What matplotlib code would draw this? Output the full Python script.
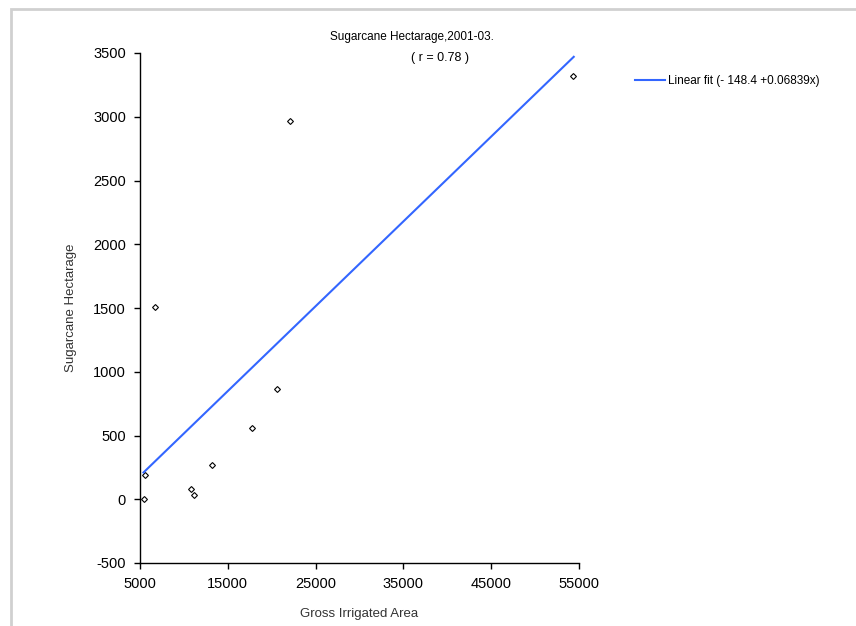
import matplotlib
matplotlib.use("Agg")
import matplotlib.pyplot as plt
from matplotlib.patches import Rectangle

plt.rcParams['font.family'] = ['Liberation Sans', 'DejaVu Sans']
plt.rcParams['axes.unicode_minus'] = False

# district values
irrigated = [5570, 5400, 6710, 10810, 11150, 13200, 17760, 20600, 22080, 54300]
sugarcane = [190, 0, 1510, 80, 30, 270, 560, 865, 2965, 3320]

# fitted line as drawn
fit_x = [5400, 54400]
fit_y = [210, 3470]
fit_label = "Linear fit (- 148.4 +0.06839x)"

x_ticks = [5000, 15000, 25000, 35000, 45000, 55000]
y_ticks = [-500, 0, 500, 1000, 1500, 2000, 2500, 3000, 3500]

fig = plt.figure(figsize=(8.56, 6.26), dpi=100)
ax = fig.add_axes([140 / 856, 1 - 563 / 626, 439 / 856, 510 / 626])

ax.plot(irrigated, sugarcane, linestyle='none', marker='D', markersize=3,
        markerfacecolor='white', markeredgecolor='black', markeredgewidth=0.8)
line, = ax.plot(fit_x, fit_y, color='#3366ff', lw=1.5)

ax.set_xlim(5000, 55000)
ax.set_ylim(-500, 3500)
ax.set_xticks(x_ticks)
ax.set_yticks(y_ticks)
ax.tick_params(labelsize=10.5, length=4, width=1, direction='out', pad=6)
for s in ['top', 'right']:
    ax.spines[s].set_visible(False)
for s in ['left', 'bottom']:
    ax.spines[s].set_linewidth(1)

ax.set_xlabel("Gross Irrigated Area", fontsize=9.5, color='#333333', labelpad=12)
ax.set_ylabel("Sugarcane Hectarage", fontsize=9.5, color='#333333', labelpad=12)

fig.text(412 / 856, 1 - 37 / 626, "Sugarcane Hectarage,2001-03.", ha='center', va='center', fontsize=8.5)
fig.text(440 / 856, 1 - 58 / 626, "( r = 0.78 )", ha='center', va='center', fontsize=9)

fig.legend([line], [fit_label], loc='center left', bbox_to_anchor=(624 / 856, 1 - 81 / 626),
           frameon=False, fontsize=8.5, handlelength=2.6, handletextpad=0.2)

fig.patches.append(Rectangle((11 / 856, -0.1), 1.2, 1 - 9 / 626 + 0.1, transform=fig.transFigure,
                             fill=False, edgecolor='#d0d0d0', lw=2))

fig.savefig("out.png", dpi=100)
